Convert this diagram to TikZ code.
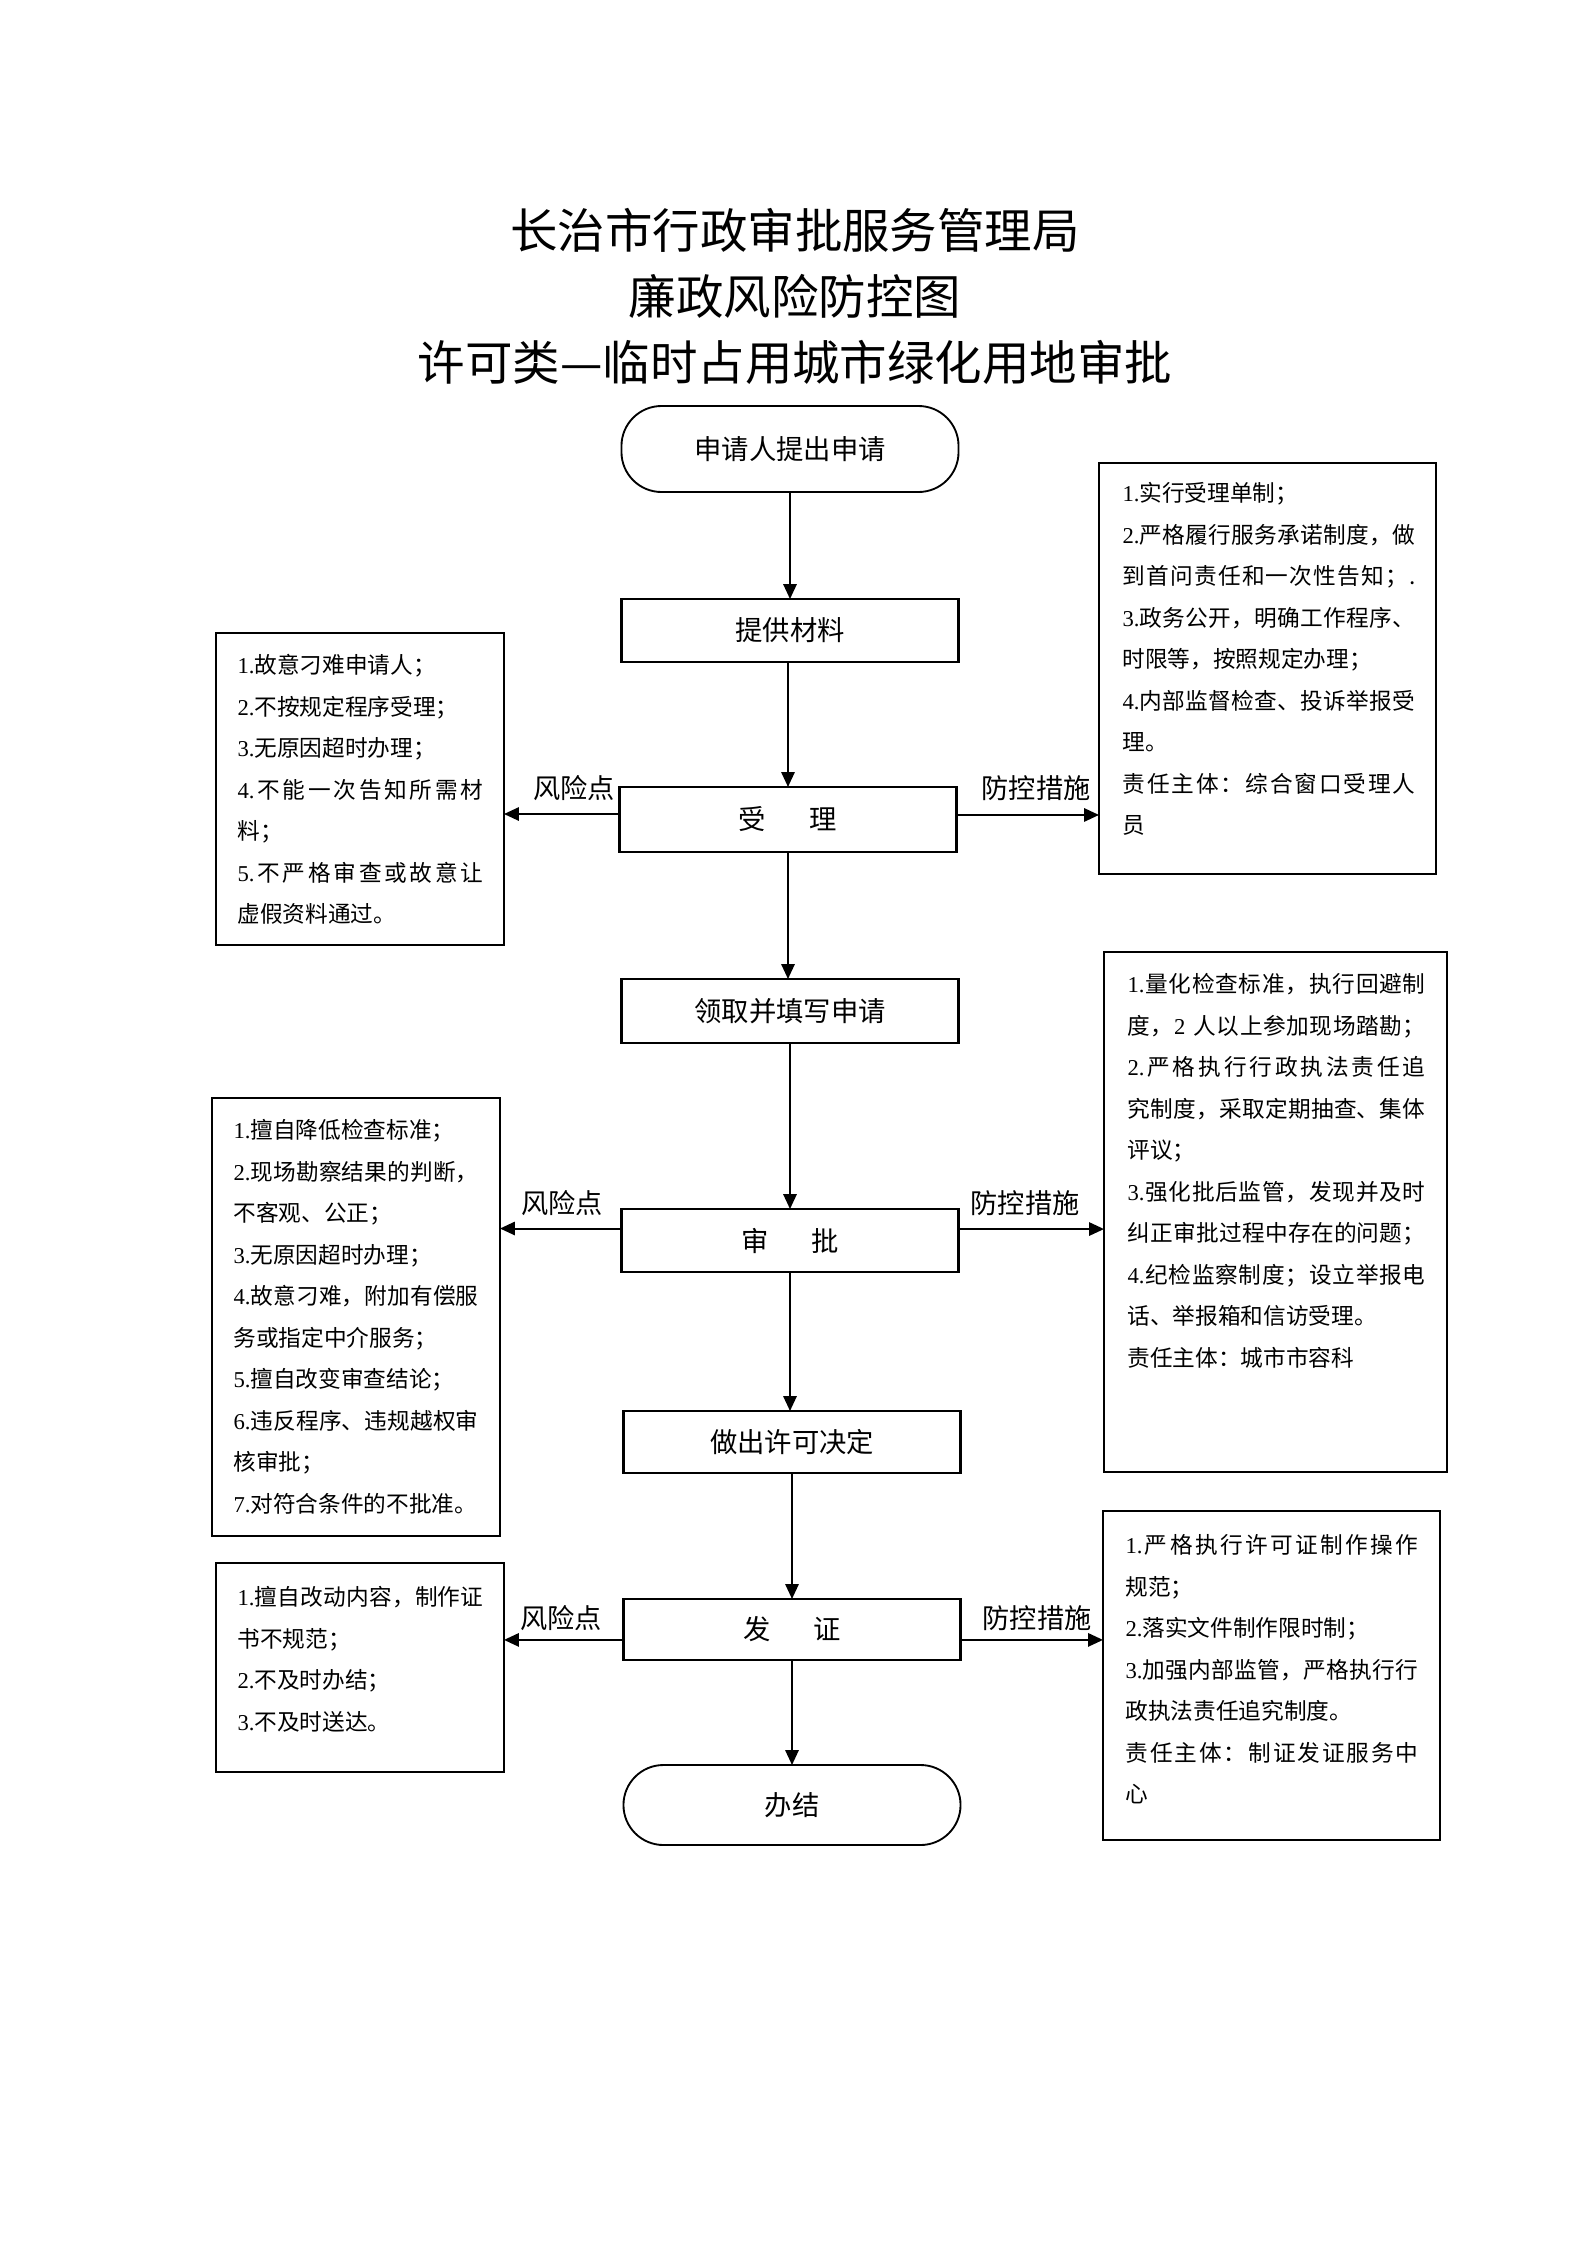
\documentclass[tikz,border=0pt]{standalone}
\usepackage{fontspec}
\setmainfont{Noto Sans CJK SC}
\newfontfamily\lat{Liberation Serif}
\usetikzlibrary{arrows.meta}
\newlength\tw
\def\gobbleone#1{}
\def\spreadaux#1{#1\futurelet\spnext\spreadcheck}
\def\spreadcheck{\ifx\spnext\relax\expandafter\gobbleone\else\hfil\expandafter\spreadaux\fi}
\newcommand\jl[1]{\makebox[\tw][s]{\spreadaux#1\relax}}
\newcommand\jn[2]{\makebox[\tw][s]{{\lat #1}\hfil\spreadaux#2\relax}}
\newcommand\nn[1]{{\lat #1}}
\begin{document}
\begin{tikzpicture}[x=0.375pt,y=-0.375pt,
  flow/.style={draw, line width=0.9pt, minimum width=126.4pt, inner sep=0pt, outer sep=0pt, font=\fontsize{10.25pt}{12pt}\selectfont},
  term/.style={flow, rounded corners=15pt, line width=0.7pt},
  riskbox/.style={draw, line width=0.9pt, anchor=north west, inner sep=0pt, outer sep=0pt},
  body/.style={anchor=north west, inner sep=0pt, align=left, text width=\tw, font=\fontsize{8.5pt}{15.56pt}\selectfont},
  lab/.style={inner sep=0pt, font=\fontsize{10.2pt}{12pt}\selectfont},
  arr/.style={line width=0.75pt, -{Triangle[length=5.6pt,width=5pt]}}
]
\fill[white] (0,0) rectangle (1587,2245);
\useasboundingbox (0,0) rectangle (1587,2245);

% title
\node[align=center, inner sep=0pt, font=\fontsize{17.8pt}{24.75pt}\selectfont] (title) at (795,296)
  {长治市行政审批服务管理局\\廉政风险防控图\\许可类—临时占用城市绿化用地审批};

% flow
\node[term, minimum height=32.25pt] (start) at (790,449) {申请人提出申请};
\node[flow, minimum height=23.6pt] (ti) at (790,630.5) {提供材料};
\node[flow, minimum height=24.4pt] (shou) at (788,819.5) {受\hspace{1.6em}理};
\node[flow, minimum height=24pt] (ling) at (790,1011) {领取并填写申请};
\node[flow, minimum height=23.6pt] (shen) at (790,1240.5) {审\hspace{1.55em}批};
\node[flow, minimum height=23.25pt] (zuo) at (792,1442) {做出许可决定};
\node[flow, minimum height=22.9pt] (fa) at (792,1629.5) {发\hspace{1.55em}证};
\node[term, minimum height=30pt] (end) at (792,1805) {办结};

% side boxes
\node[riskbox, minimum width=108pt, minimum height=117pt] (l1) at (216,633) {};
\node[riskbox, minimum width=126.4pt, minimum height=154.1pt] (r1) at (1099,463) {};
\node[riskbox, minimum width=108pt, minimum height=164.25pt] (l2) at (212,1098) {};
\node[riskbox, minimum width=128.6pt, minimum height=195pt] (r2) at (1104,952) {};
\node[riskbox, minimum width=108pt, minimum height=78.4pt] (l3) at (216,1563) {};
\node[riskbox, minimum width=126.4pt, minimum height=123.4pt] (r3) at (1103,1511) {};

% texts
\setlength\tw{92.25pt}
\node[body] (l1t) at (237,654) {\nn{1.}故意刁难申请人；\\\nn{2.}不按规定程序受理；\\\nn{3.}无原因超时办理；\\\jn{4.}{不能一次告知所需材}\\料；\\\jn{5.}{不严格审查或故意让}\\虚假资料通过。};

\setlength\tw{109.9pt}
\node[body] (r1t) at (1122,482) {\nn{1.}实行受理单制；\\\jn{2.}{严格履行服务承诺制度，做}\\\jl{到首问责任和一次性告知；.}\\\jn{3.}{政务公开，明确工作程序、}\\时限等，按照规定办理；\\\jn{4.}{内部监督检查、投诉举报受}\\理。\\\jl{责任主体：综合窗口受理人}\\员};

\setlength\tw{91.9pt}
\node[body] (l2t) at (233,1119) {\nn{1.}擅自降低检查标准；\\\jn{2.}{现场勘察结果的判断，}\\不客观、公正；\\\nn{3.}无原因超时办理；\\\jn{4.}{故意刁难，附加有偿服}\\务或指定中介服务；\\\nn{5.}擅自改变审查结论；\\\jn{6.}{违反程序、违规越权审}\\核审批；\\\nn{7.}对符合条件的不批准。};

\setlength\tw{111.75pt}
\node[body] (r2t) at (1127,973) {\jn{1.}{量化检查标准，执行回避制}\\\jl{度，{{\lat 2\ }}人以上参加现场踏勘；}\\\jn{2.}{严格执行行政执法责任追}\\\jl{究制度，采取定期抽查、集体}\\评议；\\\jn{3.}{强化批后监管，发现并及时}\\\jl{纠正审批过程中存在的问题；}\\\jn{4.}{纪检监察制度；设立举报电}\\话、举报箱和信访受理。\\责任主体：城市市容科};

\setlength\tw{92.25pt}
\node[body] (l3t) at (237,1586) {\jn{1.}{擅自改动内容，制作证}\\书不规范；\\\nn{2.}不及时办结；\\\nn{3.}不及时送达。};

\setlength\tw{109.9pt}
\node[body] (r3t) at (1125,1534) {\jn{1.}{严格执行许可证制作操作}\\规范；\\\nn{2.}落实文件制作限时制；\\\jn{3.}{加强内部监管，严格执行行}\\政执法责任追究制度。\\\jl{责任主体：制证发证服务中}\\心};

% vertical arrows
\draw[arr] (start) -- (start |- ti.north);
\draw[arr] (shou |- ti.south) -- (shou.north);
\draw[arr] (shou.south) -- (shou.south |- ling.north);
\draw[arr] (ling) -- (shen);
\draw[arr] (shen.south) -- (shen.south |- zuo.north);
\draw[arr] (zuo) -- (fa);
\draw[arr] (fa) -- (end);

% side arrows
\coordinate (a1) at ([yshift=2.06pt]shou.west);
\coordinate (b1) at ([yshift=1.7pt]shou.east);
\coordinate (a2) at ([yshift=4.5pt]shen.west);
\coordinate (b2) at ([yshift=4.3pt]shen.east);
\coordinate (a3) at ([yshift=-3.9pt]fa.west);
\coordinate (b3) at ([yshift=-3.9pt]fa.east);
\draw[arr] (a1) -- (a1 -| l1.east);
\draw[arr] (b1) -- (b1 -| r1.west);
\draw[arr] (a2) -- (a2 -| l2.east);
\draw[arr] (b2) -- (b2 -| r2.west);
\draw[arr] (a3) -- (a3 -| l3.east);
\draw[arr] (b3) -- (b3 -| r3.west);

% labels
\node[lab] (rk1) at (574,788) {风险点};
\node[lab] (fk1) at (1036,788) {防控措施};
\node[lab] (rk2) at (562,1203) {风险点};
\node[lab] (fk2) at (1025,1203) {防控措施};
\node[lab] (rk3) at (561,1618) {风险点};
\node[lab] (fk3) at (1037,1618) {防控措施};
\end{tikzpicture}
\end{document}
